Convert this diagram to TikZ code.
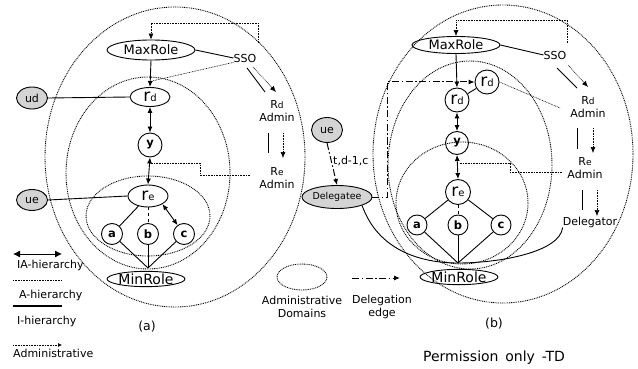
\documentclass[tikz,border=0pt]{standalone}
\usepackage{fontspec}
\setmainfont{DejaVu Sans}
\usetikzlibrary{shapes.geometric,arrows.meta,calc}
\definecolor{gfill}{RGB}{212,212,212}
\newcommand{\rlab}[1]{{\fontsize{17}{17}\selectfont r}{\fontsize{10}{10}\selectfont #1}}
\newcommand{\Rlab}[1]{R{\fontsize{9}{9}\selectfont #1}}
\begin{document}
\begin{tikzpicture}[x=1pt,y=-1pt,
  every node/.style={font=\fontsize{11}{12}\selectfont, inner sep=0pt},
  el/.style={draw, ellipse, line width=0.9pt, inner sep=0pt},
  circ/.style={draw, circle, line width=0.9pt, inner sep=0pt, minimum size=#1, font=\fontsize{11.5}{12}\selectfont\bfseries},
  gnode/.style={draw, ellipse, fill=gfill, line width=0.9pt, inner sep=0pt},
  dom/.style={line width=0.9pt, dash pattern=on 0.9pt off 0.9pt},
  adm/.style={line width=0.6pt, dash pattern=on 0.8pt off 0.8pt},
  tip/.style={-{Latex[length=6pt,width=5pt]}},
  dtip/.style={{Latex[length=6pt,width=5pt]}-{Latex[length=6pt,width=5pt]}},
  sol/.style={line width=0.9pt},
  dd/.style={line width=1pt, dash pattern=on 7pt off 2.5pt on 1.5pt off 2.5pt},
  lbl/.style={align=center, font=\fontsize{11}{13.5}\selectfont}
]
\useasboundingbox (0,0) rectangle (638,369);

% ---------------- (a) ----------------
\draw[dom] (175,157) ellipse [x radius=130, y radius=150];
\draw[dom] (148,173) ellipse [x radius=82, y radius=96];
\draw[dom] (148,216) ellipse [x radius=62, y radius=40];

\node[el, minimum width=88, minimum height=20, font=\fontsize{13}{13}\selectfont] (maxA) at (151,50) {MaxRole};
\node (ssoA) at (245,58) {SSO};
\node[el, minimum width=40, minimum height=19] (rdA) at (150,97) {\rlab{d}};
\node[gnode, minimum width=31, minimum height=22] (ud) at (32,98) {ud};
\node[circ=24] (yA) at (150,145) {y};
\node[el, minimum width=40, minimum height=22] (reA) at (148,196) {\rlab{e}};
\node[gnode, minimum width=31, minimum height=21] (ueA) at (32,200) {ue};
\node[circ=21] (aA) at (112,234) {a};
\node[circ=21] (bA) at (148,234) {b};
\node[circ=21] (cA) at (184,234) {c};
\node[el, minimum width=72, minimum height=14, font=\fontsize{14}{14}\selectfont] (minA) at (146,279) {MinRole};
\coordinate (jA) at (148,268);
\node[lbl] (rdadmA) at (277,111) {\Rlab{d}\\Admin};
\node[lbl] (readmA) at (277,178) {\Rlab{e}\\Admin};

\coordinate (ssoAtop) at (258,43);
\draw[adm, tip] (ssoAtop) -- ++(0,-20) -| (maxA.north);
\draw[sol] (maxA.east) -- (ssoA.west);
\coordinate (ssoAdom) at (152,81);
\draw[adm] (ssoA.south west) -- (ssoAdom);
\coordinate (sA1) at (247,68); \coordinate (sA2) at (265,92);
\coordinate (sA3) at (253,67); \coordinate (sA4) at (276,92);
\draw[sol] (sA1) -- (sA2);
\draw[adm, tip] (sA3) -- (sA4);
\coordinate (rA1) at (268,133); \coordinate (rA2) at (268,153);
\coordinate (rA3) at (283,133); \coordinate (rA4) at (283,158);
\draw[sol] (rA1) -- (rA2);
\draw[adm, tip] (rA3) -- (rA4);
\draw[sol, tip] (maxA.south) -- (rdA.north);
\draw[sol] (ud.east) -- (rdA.west);
\draw[sol, dtip] (rdA.south) -- (yA.north);
\draw[sol, dtip] (yA.south) -- (reA.north);
\coordinate (eA1) at (250,175); \coordinate (eA2) at (151,163);
\draw[adm] (eA1) -- (200,175) -- (200,163) -- (eA2);
\draw[sol] (ueA.east) -- (reA.west);
\draw[sol] (reA) -- (aA);
\draw[sol, dashed] (reA) -- (bA);
\draw[sol, dtip] (reA.south east) -- (cA);
\draw[sol] (aA) -- (jA);
\draw[sol] (bA) -- (jA);
\draw[sol] (cA) -- (jA);

% legend (a)
\coordinate (L1a) at (13,254); \coordinate (L1b) at (62,254);
\draw[sol, {Latex[length=7pt,width=7pt]}-{Latex[length=7pt,width=7pt]}] (L1a) -- (L1b);
\node[anchor=west] (tIA) at (17,265) {IA-hierarchy};
\coordinate (L2a) at (13,280); \coordinate (L2b) at (62,280);
\draw[adm] (L2a) -- (L2b);
\node[anchor=west] (tA) at (19,295) {A-hierarchy};
\coordinate (L3a) at (13,306); \coordinate (L3b) at (62,306);
\draw[line width=1.2pt] (L3a) -- (L3b);
\node[anchor=west] (tI) at (17,321) {I-hierarchy};
\coordinate (L4a) at (13,345); \coordinate (L4b) at (62,345);
\draw[adm, -{Latex[length=4pt,width=4pt]}] (L4a) -- (L4b);
\node[anchor=west] (tAd) at (13,353) {Administrative};
\node[font=\fontsize{12.5}{13}\selectfont] (capA) at (147,327) {(a)};

% middle legend
\draw[dom] (302,277) ellipse [x radius=25, y radius=13];
\node[lbl] (tDom) at (302,307) {Administrative\\Domains};
\coordinate (L5a) at (352,278); \coordinate (L5b) at (400,278);
\draw[dd, tip] (L5a) -- (L5b);
\node[lbl] (tDel) at (382,307) {Delegation\\edge};

% ---------------- (b) ----------------
\draw[dom] (503,154) ellipse [x radius=130, y radius=149];
\draw[dom] (470,165) ellipse [x radius=82, y radius=104];
\draw[dom] (462,203) ellipse [x radius=66, y radius=61];

\node[el, minimum width=88, minimum height=17, font=\fontsize{13}{13}\selectfont] (maxB) at (456,45) {MaxRole};
\node (ssoB) at (555,55) {SSO};
\node[circ=24, font=\normalfont] (rdB) at (457,100) {\rlab{d}};
\node[circ=24, font=\normalfont] (rdpB) at (487,82) {\rlab{d}};
\node[circ=23] (yB) at (457,143) {y};
\node[circ=25, font=\normalfont] (reB) at (458,192) {\rlab{e}};
\node[circ=20] (aB) at (417,225) {a};
\node[circ=20] (bB) at (458,225) {b};
\node[circ=20] (cB) at (501,225) {c};
\node[el, minimum width=72, minimum height=13, font=\fontsize{14}{14}\selectfont] (minB) at (459,277) {MinRole};
\coordinate (jB) at (458,263);
\node[gnode, minimum width=31, minimum height=25] (ueB) at (327,130) {ue};
\node[gnode, minimum width=70, minimum height=23, font=\fontsize{9.5}{10}\selectfont] (dgt) at (337,197) {Delegatee};
\node[lbl] (rdadmB) at (588,107) {\Rlab{d}\\Admin};
\node[lbl] (readmB) at (585,168) {\Rlab{e}\\Admin};
\node (dgr) at (590,222) {Delegator};

\coordinate (ssoBtop) at (567,43);
\draw[adm, tip] (ssoBtop) -- ++(0,-23) -| (maxB.north);
\draw[sol] (maxB.east) -- (ssoB.west);
\draw[sol, tip] (maxB.south) -- (rdB.north);
\draw[sol] (rdB) -- (rdpB);
\coordinate (rdpEnd) at (560,108);
\draw[adm] (rdpB.east) -- (rdpEnd);
\coordinate (sB1) at (557,68); \coordinate (sB2) at (577,88);
\coordinate (sB3) at (568,65); \coordinate (sB4) at (588,87);
\draw[sol] (sB1) -- (sB2);
\draw[adm, tip] (sB3) -- (sB4);
\coordinate (rB1) at (577,128); \coordinate (rB2) at (577,149);
\coordinate (rB3) at (593,128); \coordinate (rB4) at (593,153);
\draw[sol] (rB1) -- (rB2);
\draw[adm, tip] (rB3) -- (rB4);
\coordinate (gB1) at (582,190); \coordinate (gB2) at (582,210);
\coordinate (gB3) at (597,190); \coordinate (gB4) at (597,216);
\draw[sol] (gB1) -- (gB2);
\draw[adm, tip] (gB3) -- (gB4);
\draw[sol, dtip] (rdB.south) -- (yB.north);
\draw[sol, dtip] (yB.south) -- (reB.north);
\coordinate (eB1) at (562,172); \coordinate (eB2) at (459,163);
\draw[adm] (eB1) -- (510,172) -- (510,163) -- (eB2);
\draw[sol] (reB) -- (aB);
\draw[sol, dashed] (reB) -- (bB);
\draw[sol] (reB) -- (cB);
\draw[sol] (aB) -- (jB);
\draw[sol] (bB) -- (jB);
\draw[sol] (cB) -- (jB);
\draw[dd, tip] (dgt.east) -- ++(15,0) |- (rdpB.west);
\draw[dd, tip] (ueB.south) -- (dgt.north);
\node[anchor=west] (tdc) at (333,161) {t,d-1,c};
\draw[sol] (dgt.south east) .. controls (378,250) and (420,263) .. (jB);
\draw[sol] (dgr.south west) .. controls (560,252) and (500,263) .. (jB);

\node[font=\fontsize{12.5}{13}\selectfont] (capB) at (494,324) {(b)};
\node[font=\fontsize{14}{15}\selectfont] (perm) at (494,358) {Permission \,only \,-TD};
\end{tikzpicture}
\end{document}
